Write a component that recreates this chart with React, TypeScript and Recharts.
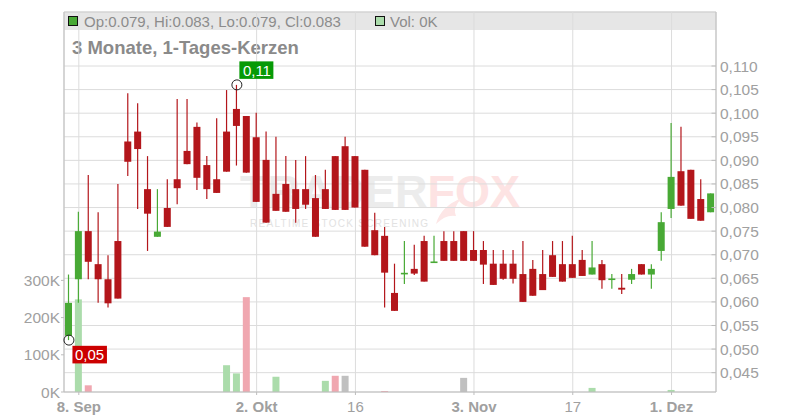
import React from 'react';
import { ComposedChart, Bar, XAxis, YAxis, CartesianGrid, Cell, ReferenceDot } from 'recharts';

const dates = [
  '2025-09-05', '2025-09-08', '2025-09-09', '2025-09-10', '2025-09-11', '2025-09-12',
  '2025-09-15', '2025-09-16', '2025-09-17', '2025-09-18', '2025-09-19',
  '2025-09-22', '2025-09-23', '2025-09-24', '2025-09-25', '2025-09-26',
  '2025-09-29', '2025-09-30', '2025-10-01', '2025-10-02', '2025-10-03',
  '2025-10-06', '2025-10-07', '2025-10-08', '2025-10-09', '2025-10-10',
  '2025-10-13', '2025-10-14', '2025-10-15', '2025-10-16', '2025-10-17',
  '2025-10-20', '2025-10-21', '2025-10-22', '2025-10-23', '2025-10-24',
  '2025-10-27', '2025-10-28', '2025-10-29', '2025-10-30', '2025-10-31',
  '2025-11-03', '2025-11-04', '2025-11-05', '2025-11-06', '2025-11-07',
  '2025-11-10', '2025-11-11', '2025-11-12', '2025-11-13', '2025-11-14',
  '2025-11-17', '2025-11-18', '2025-11-19', '2025-11-20', '2025-11-21',
  '2025-11-24', '2025-11-25', '2025-11-26', '2025-11-27', '2025-11-28',
  '2025-12-01', '2025-12-02', '2025-12-03', '2025-12-04', '2025-12-05',
];

const opens = [
  0.0528, 0.0648, 0.0750, 0.0680, 0.0648, 0.0729,
  0.0940, 0.0961, 0.0839, 0.0738, 0.0799,
  0.0860, 0.0920, 0.0971, 0.0890, 0.0860,
  0.0961, 0.1009, 0.0994, 0.0949, 0.0901,
  0.0829, 0.0850, 0.0839, 0.0839, 0.0820,
  0.0839, 0.0909, 0.0930, 0.0909, 0.0880,
  0.0752, 0.0740, 0.0619, 0.0660, 0.0670,
  0.0729, 0.0684, 0.0729, 0.0729, 0.0750,
  0.0710, 0.0710, 0.0681, 0.0681, 0.0681,
  0.0659, 0.0670, 0.0659, 0.0699, 0.0680,
  0.0680, 0.0689, 0.0658, 0.0680, 0.0648,
  0.0630, 0.0647, 0.0680, 0.0658, 0.0708,
  0.0797, 0.0877, 0.0880, 0.0818, 0.0790,
];

const highs = [
  0.0658, 0.0791, 0.0869, 0.0790, 0.0699, 0.0850,
  0.1042, 0.1021, 0.0909, 0.0839, 0.0860,
  0.1030, 0.1030, 0.0980, 0.0909, 0.0989,
  0.1049, 0.1060, 0.0994, 0.1001, 0.0961,
  0.0950, 0.0909, 0.0901, 0.0909, 0.0869,
  0.0880, 0.0909, 0.0950, 0.0909, 0.0880,
  0.0789, 0.0759, 0.0681, 0.0729, 0.0721,
  0.0740, 0.0740, 0.0750, 0.0750, 0.0750,
  0.0750, 0.0729, 0.0710, 0.0710, 0.0710,
  0.0729, 0.0689, 0.0710, 0.0729, 0.0729,
  0.0740, 0.0710, 0.0729, 0.0689, 0.0659,
  0.0659, 0.0670, 0.0680, 0.0680, 0.0790,
  0.0979, 0.0971, 0.0880, 0.0860, 0.0830,
];

const lows = [
  0.0519, 0.0598, 0.0648, 0.0598, 0.0588, 0.0607,
  0.0867, 0.0797, 0.0708, 0.0738, 0.0759,
  0.0807, 0.0892, 0.0837, 0.0818, 0.0831,
  0.0876, 0.0889, 0.0874, 0.0812, 0.0768,
  0.0793, 0.0791, 0.0768, 0.0797, 0.0738,
  0.0797, 0.0795, 0.0795, 0.0800, 0.0717,
  0.0699, 0.0588, 0.0581, 0.0638, 0.0657,
  0.0643, 0.0684, 0.0687, 0.0687, 0.0687,
  0.0687, 0.0638, 0.0636, 0.0647, 0.0639,
  0.0600, 0.0613, 0.0625, 0.0653, 0.0643,
  0.0651, 0.0655, 0.0658, 0.0628, 0.0628,
  0.0617, 0.0638, 0.0658, 0.0628, 0.0687,
  0.0778, 0.0804, 0.0776, 0.0772, 0.0790,
];

const closes = [
  0.0598, 0.0750, 0.0685, 0.0648, 0.0597, 0.0607,
  0.0897, 0.0924, 0.0787, 0.0749, 0.0759,
  0.0841, 0.0892, 0.0863, 0.0839, 0.0831,
  0.0876, 0.0973, 0.0874, 0.0812, 0.0768,
  0.0793, 0.0791, 0.0797, 0.0806, 0.0738,
  0.0797, 0.0795, 0.0795, 0.0800, 0.0717,
  0.0699, 0.0662, 0.0581, 0.0660, 0.0660,
  0.0643, 0.0684, 0.0687, 0.0687, 0.0687,
  0.0687, 0.0679, 0.0636, 0.0649, 0.0649,
  0.0600, 0.0613, 0.0625, 0.0653, 0.0643,
  0.0651, 0.0655, 0.0673, 0.0646, 0.0648,
  0.0626, 0.0659, 0.0658, 0.0670, 0.0769,
  0.0865, 0.0804, 0.0776, 0.0772, 0.0830,
];

const volumes = [
  0, 249000, 18000, 0, 0, 0,
  0, 0, 0, 0, 0,
  0, 0, 0, 0, 0,
  72000, 50000, 255000, 0, 0,
  41000, 0, 0, 0, 0,
  30000, 43600, 43600, 0, 0,
  0, 2700, 0, 0, 0,
  0, 0, 0, 0, 38000,
  0, 0, 0, 0, 0,
  0, 0, 0, 0, 0,
  0, 0, 11000, 0, 0,
  0, 0, 0, 0, 0,
  5500, 0, 0, 0, 0,
];

const xTickDates = ['2025-09-08', '2025-10-02', '2025-10-16', '2025-11-03', '2025-11-17', '2025-12-01'];
const xTickLabels = ['8. Sep', '2. Okt', '16', '3. Nov', '17', '1. Dez'];
const priceTicks = [0.045, 0.05, 0.055, 0.06, 0.065, 0.07, 0.075, 0.08, 0.085, 0.09, 0.095, 0.1, 0.105, 0.11];
const volumeTicks = [0, 100000, 200000, 300000];

const PRICE_DOMAIN = [0.040903, 0.121446];
const VOL_DOMAIN = [0, 1021500];

const FONT = '"Liberation Sans", Arial, Helvetica, sans-serif';
const RED = '#b3161b';
const GREEN = '#48a935';
const VOL_UP = '#abdcab';
const VOL_DOWN = '#f0a7b0';
const VOL_FLAT = '#c0c0c0';
const AXIS = '#bdbdbd';
const GRID = '#dcdcdc';
const LABEL = '#a0a0a0';

const data = dates.map((d, i) => ({
  date: d,
  open: opens[i],
  high: highs[i],
  low: lows[i],
  close: closes[i],
  volume: volumes[i],
  dir: i === 0 ? 0 : Math.sign(closes[i] - closes[i - 1]),
}));

const Candle = (props: any) => {
  const { x, y, width, height, payload } = props;
  if (!payload || x == null) return null;
  const { open, close, high, low } = payload;
  const color = close >= open ? GREEN : RED;
  const span = high - low;
  const toY = (v: number) => (span === 0 ? y : y + ((high - v) / span) * height);
  const yTop = toY(Math.max(open, close));
  const yBot = toY(Math.min(open, close));
  const cx = x + width / 2;
  const bodyH = Math.max(yBot - yTop, 1.6);
  return (
    <g>
      <line x1={cx} x2={cx} y1={y} y2={y + height} stroke={color} strokeWidth={1.2} />
      <rect x={x} y={yTop - (yBot - yTop < 1.6 ? 0.8 : 0)} width={width} height={bodyH} fill={color} />
    </g>
  );
};

const XTick = (props: any) => {
  const { x, y, payload } = props;
  const idx = xTickDates.indexOf(payload.value);
  const label = idx >= 0 ? xTickLabels[idx] : '';
  const bold = /[A-Za-z]/.test(label);
  return (
    <text x={x} y={y} dy="0.71em" textAnchor="middle" fill={LABEL} fontSize={15} fontFamily={FONT} fontWeight={bold ? 'bold' : 'normal'}>
      {label}
    </text>
  );
};

const PriceTick = (props: any) => {
  const { x, y, payload } = props;
  return (
    <g>
      <line x1={x - 8.5} x2={x - 4} y1={y} y2={y} stroke={AXIS} />
      <text x={x} y={y} dy="0.355em" textAnchor="start" fill={LABEL} fontSize={15.5} fontFamily={FONT}>
        {payload.value.toFixed(3).replace('.', ',')}
      </text>
    </g>
  );
};

const VolTick = (props: any) => {
  const { x, y, payload } = props;
  return (
    <text x={x} y={y} dy="0.355em" textAnchor="end" fill={LABEL} fontSize={15.5} fontFamily={FONT}>
      {`${Math.round(payload.value / 1000)}K`}
    </text>
  );
};

const fmt2 = (v: number) => v.toFixed(2).replace('.', ',');

const hiIdx = highs.indexOf(Math.max(...highs));
const loIdx = lows.indexOf(Math.min(...lows));

const HighMarker = (props: any) => {
  const { cx, cy } = props;
  if (cx == null) return null;
  return (
    <g>
      <circle cx={cx} cy={cy} r={5} fill="none" stroke="#222" strokeWidth={1} />
      <rect x={cx + 2.5} y={cy - 23.5} width={34} height={17.5} fill="#069a06" />
      <text x={cx + 6} y={cy - 8.5} fill="#fff" fontSize={15} fontFamily={FONT}>
        {fmt2(highs[hiIdx])}
      </text>
    </g>
  );
};

const LowMarker = (props: any) => {
  const { cx, cy } = props;
  if (cx == null) return null;
  return (
    <g>
      <circle cx={cx} cy={cy} r={5} fill="none" stroke="#222" strokeWidth={1} />
      <rect x={cx + 3.5} y={cy + 5.7} width={34.5} height={17.6} fill="#cc0000" />
      <text x={cx + 6} y={cy + 20} fill="#fff" fontSize={15} fontFamily={FONT}>
        {fmt2(lows[loIdx])}
      </text>
    </g>
  );
};

export default function App() {
  const last = data[data.length - 1];
  const headerText = `Op:${last.open.toFixed(3)}, Hi:${last.high.toFixed(3)}, Lo:${last.low.toFixed(3)}, Cl:${last.close.toFixed(3)}`;
  const volText = `Vol: ${Math.round(last.volume / 1000)}K`;
  return (
    <div style={{ position: 'absolute', left: 0, top: 0, width: 800, height: 420, background: '#fff', fontFamily: FONT }}>
      <svg width={800} height={420} style={{ position: 'absolute', left: 0, top: 0 }}>
        <rect x={64} y={12} width={652} height={18} fill="#e6e6e6" />
        <line x1={64} x2={716} y1={12} y2={12} stroke="#c4c4c4" />
        <g fontFamily={FONT} fontWeight="bold">
          <text x={240} y={207} fontSize={45}>
            <tspan fill="#ececec">TRADER</tspan>
            <tspan fill="#fde3e3">FOX</tspan>
          </text>
        </g>
        <path d="M436,224 Q441,206 462,198 Q452,208 456,216 Q446,214 436,224 Z" fill="#fde6e6" />
        <text x={250} y={227} fontSize={10} fill="#e2e2e2" fontFamily={FONT} textLength={178} lengthAdjust="spacing">
          REALTIME STOCK SCREENING
        </text>
        <rect x={68.5} y={16.5} width={9} height={9} fill={GREEN} stroke="#111" strokeWidth={1} />
        <text x={84} y={26.5} fontSize={15} fill="#8c8c8c" fontFamily={FONT}>{headerText}</text>
        <rect x={375.5} y={16.5} width={9} height={9} fill={VOL_UP} stroke="#111" strokeWidth={1} />
        <text x={390} y={26.5} fontSize={15} fill="#8c8c8c" fontFamily={FONT}>{volText}</text>
        <text x={72} y={54} fontSize={18.5} fontWeight="bold" fill="#8a8a8a" fontFamily={FONT}>3 Monate, 1-Tages-Kerzen</text>
      </svg>
      <div style={{ position: 'absolute', left: 0, top: 0 }}>
        <ComposedChart width={800} height={420} data={data} margin={{ top: 12, right: 0, bottom: 0, left: 0 }}>
          <CartesianGrid stroke={GRID} />
          <XAxis
            dataKey="date"
            ticks={xTickDates}
            interval={0}
            height={28}
            tickSize={3}
            tickMargin={6}
            stroke={AXIS}
            tick={<XTick />}
          />
          <XAxis xAxisId="vol" dataKey="date" hide />
          <YAxis
            yAxisId="vol"
            orientation="left"
            width={64}
            domain={VOL_DOMAIN}
            ticks={volumeTicks}
            interval={0}
            allowDataOverflow
            tickSize={3}
            tickMargin={1}
            stroke={AXIS}
            tick={<VolTick />}
          />
          <YAxis
            orientation="right"
            width={84}
            domain={PRICE_DOMAIN}
            ticks={priceTicks}
            interval={0}
            allowDataOverflow
            tickSize={0}
            tickMargin={4}
            tickLine={false}
            stroke={AXIS}
            tick={<PriceTick />}
          />
          <Bar xAxisId="vol" yAxisId="vol" dataKey="volume" barSize={7} isAnimationActive={false}>
            {data.map((d, i) => (
              <Cell key={i} fill={d.dir > 0 ? VOL_UP : d.dir < 0 ? VOL_DOWN : VOL_FLAT} />
            ))}
          </Bar>
          <Bar dataKey={(d: any) => [d.low, d.high]} barSize={7} shape={<Candle />} isAnimationActive={false} />
          <ReferenceDot x={dates[hiIdx]} y={highs[hiIdx]} r={5} shape={<HighMarker />} ifOverflow="visible" />
          <ReferenceDot x={dates[loIdx]} y={lows[loIdx]} r={5} shape={<LowMarker />} ifOverflow="visible" />
        </ComposedChart>
      </div>
    </div>
  );
}
